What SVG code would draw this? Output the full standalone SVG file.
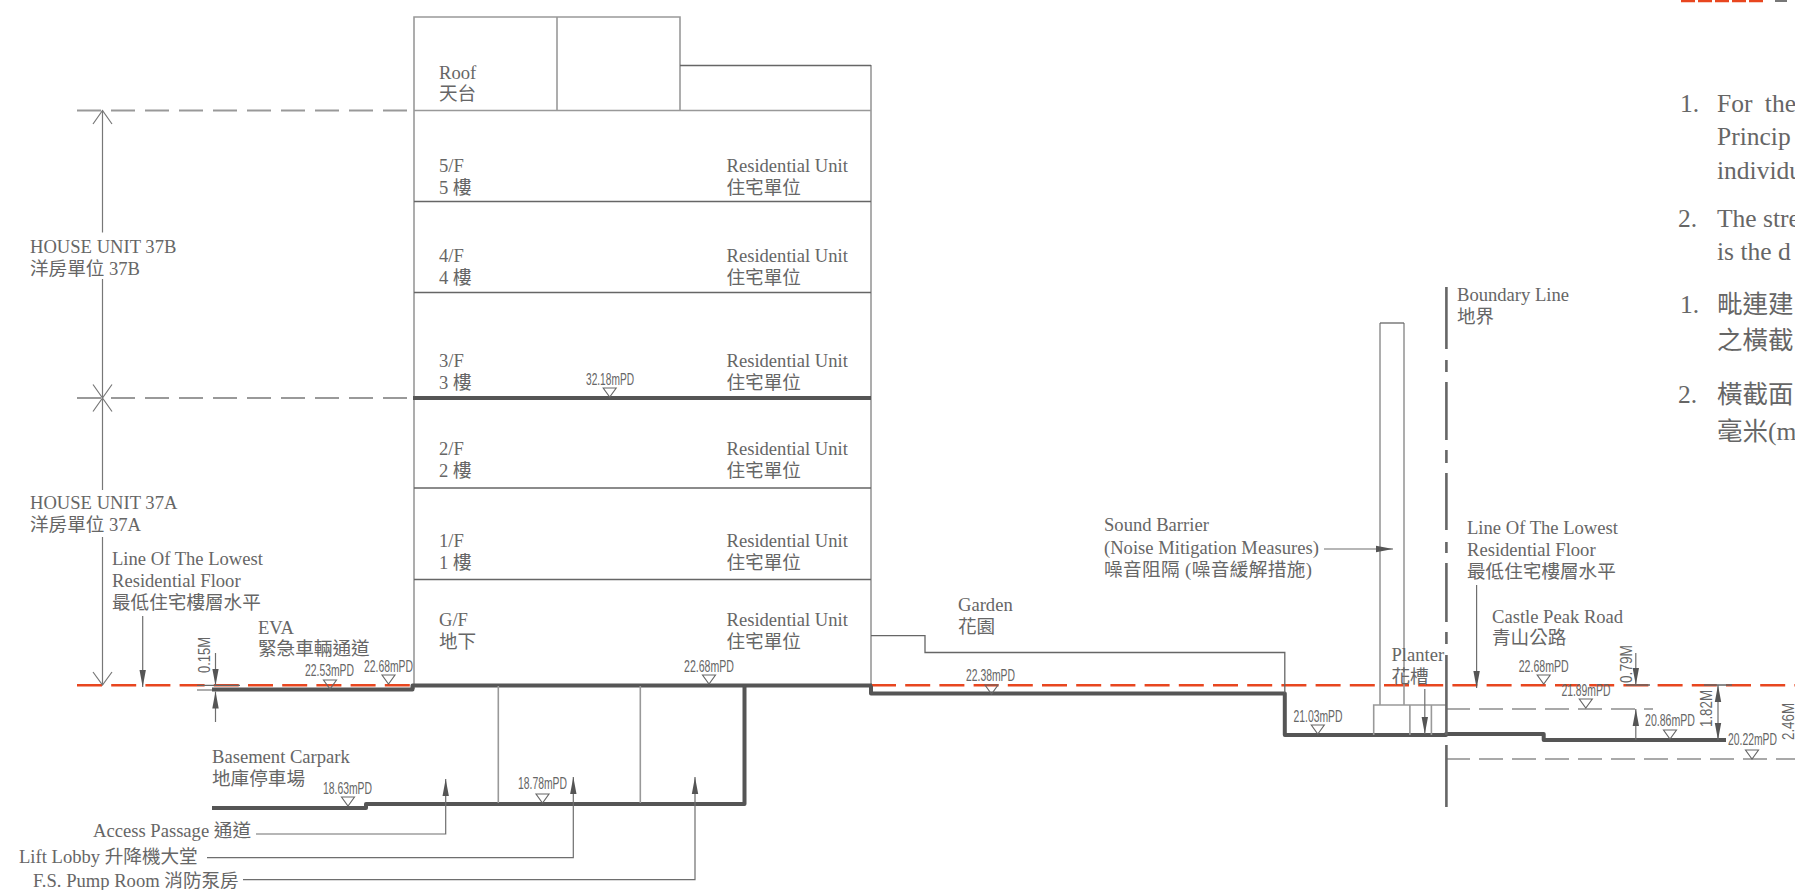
<svg xmlns="http://www.w3.org/2000/svg" width="1795" height="890" viewBox="0 0 1795 890">
<style>
text{font-family:"Liberation Serif","Noto Sans CJK TC",serif;font-size:18.6px;fill:#666}
.zh{font-size:18.6px}
.note{font-size:25.5px}
.lv{font-family:"Liberation Sans",sans-serif;font-size:17px}
.thin{fill:none;stroke:#777;stroke-width:1.2}
.wall{fill:none;stroke:#999;stroke-width:1.6}
.floor{fill:none;stroke:#666;stroke-width:1.3}
.slab{fill:none;stroke:#555;stroke-width:4;stroke-linejoin:round}
.red{fill:none;stroke:#e8461f;stroke-width:2.4;stroke-dasharray:25 9.2}
.dash{fill:none;stroke:#999;stroke-width:1.8;stroke-dasharray:24 10}
.ddash{fill:none;stroke:#555;stroke-width:1.2;stroke-dasharray:24 9}
.tri{fill:none;stroke:#666;stroke-width:1.1}
.bound{fill:none;stroke:#666;stroke-width:2.6}
.lead{fill:none;stroke:#6e6e6e;stroke-width:1.2}
.arr{marker-end:url(#head)}
.both{marker-start:url(#head);marker-end:url(#head)}
</style>
<defs>
<marker id="head" markerUnits="userSpaceOnUse" markerWidth="18" markerHeight="8" refX="17" refY="4" orient="auto-start-reverse"><path d="M0 0.8L17 4L0 7.2Z" fill="#555"/></marker>
<polygon id="tri" points="-6.5,0 6.5,0 0,9" class="tri"/>
</defs>

<g id="building">
<path class="wall" d="M414 689V17H680V110.5M557 17V110.5M414 110.5H871M871 65V694"/>
<path class="floor" d="M680 65.5H871M414 201.5H871M414 292.5H871M414 488H871M414 579.5H871"/>
<path class="slab" d="M413 398H871"/>
<text x="439" y="79">Roof</text><text class="zh" x="439" y="100">天台</text>
<text x="439" y="172">5/F</text><text class="zh" x="439" y="194">5 樓</text>
<text x="439" y="262">4/F</text><text class="zh" x="439" y="284">4 樓</text>
<text x="439" y="367">3/F</text><text class="zh" x="439" y="389">3 樓</text>
<text x="439" y="455">2/F</text><text class="zh" x="439" y="477">2 樓</text>
<text x="439" y="547">1/F</text><text class="zh" x="439" y="569">1 樓</text>
<text x="439" y="626">G/F</text><text class="zh" x="439" y="648">地下</text>
<text x="726.5" y="172">Residential Unit</text><text class="zh" x="726.5" y="194">住宅單位</text>
<text x="726.5" y="262">Residential Unit</text><text class="zh" x="726.5" y="284">住宅單位</text>
<text x="726.5" y="367">Residential Unit</text><text class="zh" x="726.5" y="389">住宅單位</text>
<text x="726.5" y="455">Residential Unit</text><text class="zh" x="726.5" y="477">住宅單位</text>
<text x="726.5" y="547">Residential Unit</text><text class="zh" x="726.5" y="569">住宅單位</text>
<text x="726.5" y="626">Residential Unit</text><text class="zh" x="726.5" y="648">住宅單位</text>
<text class="lv" x="586" y="385" textLength="48" lengthAdjust="spacingAndGlyphs">32.18mPD</text><use href="#tri" x="609.7" y="388"/>
</g>

<g id="levels-lines">
<path class="dash" d="M77 110.5H412M77 398H412"/>
<path class="red" d="M77 685.3H414M871 685.3H1795"/>
<path class="ddash" d="M1446 709H1653"/>
<path class="ddash" d="M1446 759H1795"/>
<path class="floor" d="M197 685.3H240M1626 685H1650M1704 685H1732"/>
<path class="wall" d="M197 690H212"/>
</g>

<g id="ground">
<path class="slab" d="M212 689.5H412.5V685.5H872"/>
<path class="slab" d="M871 685.5V693.5H1284.8V735H1446V734H1543.7V740H1726"/>
<path class="slab" d="M212 808H366V804H744.5V685.5"/>
<path class="wall" d="M498.3 686V803M640.3 686V803"/>
</g>

<g id="garden">
<path class="floor" d="M871 635.7H925V652.5H1284.8V693"/>
<text x="958" y="611">Garden</text><text class="zh" x="958" y="633">花園</text>
<text class="lv" x="966" y="681" textLength="49" lengthAdjust="spacingAndGlyphs">22.38mPD</text><use href="#tri" x="991.5" y="685"/>
</g>

<g id="sound-barrier">
<path class="wall" d="M1380 705V323M1404 323V705"/>
<path class="floor" d="M1380 323H1404"/>
<text x="1104" y="531">Sound Barrier</text><text x="1104" y="554">(Noise Mitigation Measures)</text>
<text class="zh" x="1104" y="576" textLength="208">噪音阻隔 (噪音緩解措施)</text>
</g>

<g id="planter">
<path class="wall" d="M1373.7 735V705H1446M1409.9 705V735M1431.4 705V735"/>
<text x="1391.5" y="661">Planter</text><text class="zh" x="1391.5" y="683">花槽</text>
</g>

<g id="boundary-line">
<path class="bound" d="M1446.4 287V349M1446.4 360V372M1446.4 382V440M1446.4 450V463M1446.4 473V530M1446.4 542V553M1446.4 563V622M1446.4 632V644M1446.4 655V735M1446.4 745V807"/>
<text x="1457" y="301">Boundary Line</text><text class="zh" x="1457" y="323">地界</text>
</g>

<g id="house-units">
<path class="thin" d="M102.5 110.5V232.5M102.5 279V490M102.5 537V685"/>
<path class="thin" d="M93 124L102.5 110.5L112 124M93 384.5L112 411.5M112 384.5L93 411.5M93 672L102.5 685L112 672"/>
<text x="30" y="253">HOUSE UNIT 37B</text><text class="zh" x="30" y="275">洋房單位 37B</text>
<text x="30" y="509">HOUSE UNIT 37A</text><text class="zh" x="30" y="531">洋房單位 37A</text>
</g>

<g id="lowest-floor-left">
<text x="112" y="565">Line Of The Lowest</text><text x="112" y="587">Residential Floor</text><text class="zh" x="112" y="609">最低住宅樓層水平</text>
</g>
<g id="lowest-floor-right">
<text x="1467" y="534">Line Of The Lowest</text><text x="1467" y="556">Residential Floor</text><text class="zh" x="1467" y="578">最低住宅樓層水平</text>
</g>

<g id="eva">
<text x="258" y="634">EVA</text><text class="zh" x="258" y="655">緊急車輛通道</text>
<text class="lv" x="305" y="676" textLength="49" lengthAdjust="spacingAndGlyphs">22.53mPD</text><use href="#tri" x="330" y="680"/>
<text class="lv" x="364" y="672" textLength="49" lengthAdjust="spacingAndGlyphs">22.68mPD</text><use href="#tri" x="388.5" y="675"/>
<text class="lv" x="684" y="672" textLength="50" lengthAdjust="spacingAndGlyphs">22.68mPD</text><use href="#tri" x="709" y="675"/>
<text class="lv" transform="translate(210 673) rotate(-90)" textLength="36" lengthAdjust="spacingAndGlyphs">0.15M</text>
</g>

<g id="basement">
<text x="212" y="763">Basement Carpark</text><text class="zh" x="212" y="785">地庫停車場</text>
<text class="lv" x="323" y="794" textLength="49" lengthAdjust="spacingAndGlyphs">18.63mPD</text><use href="#tri" x="348" y="797"/>
<text class="lv" x="518" y="789" textLength="49" lengthAdjust="spacingAndGlyphs">18.78mPD</text><use href="#tri" x="542.5" y="794"/>
<text x="93" y="837">Access Passage <tspan class="zh">通道</tspan></text>
<text x="19" y="863">Lift Lobby <tspan class="zh">升降機大堂</tspan></text>
<text x="33" y="887">F.S. Pump Room <tspan class="zh">消防泵房</tspan></text>
</g>

<g id="road">
<text x="1492" y="623">Castle Peak Road</text><text class="zh" x="1492" y="644">青山公路</text>
<text class="lv" x="1293.5" y="722" textLength="49" lengthAdjust="spacingAndGlyphs">21.03mPD</text><use href="#tri" x="1317.8" y="725"/>
<text class="lv" x="1518.7" y="672" textLength="50" lengthAdjust="spacingAndGlyphs">22.68mPD</text><use href="#tri" x="1543.7" y="675"/>
<text class="lv" x="1561.4" y="696" textLength="49" lengthAdjust="spacingAndGlyphs">21.89mPD</text><use href="#tri" x="1585.8" y="699"/>
<text class="lv" x="1645" y="726" textLength="50" lengthAdjust="spacingAndGlyphs">20.86mPD</text><use href="#tri" x="1670" y="730"/>
<text class="lv" x="1728" y="745" textLength="49" lengthAdjust="spacingAndGlyphs">20.22mPD</text><use href="#tri" x="1752" y="750"/>
<text class="lv" transform="translate(1632 683) rotate(-90)" textLength="38" lengthAdjust="spacingAndGlyphs">0.79M</text>
<text class="lv" transform="translate(1711.5 727) rotate(-90)" textLength="37" lengthAdjust="spacingAndGlyphs">1.82M</text>
<text class="lv" transform="translate(1794 740) rotate(-90)" textLength="37" lengthAdjust="spacingAndGlyphs">2.46M</text>
</g>

<g id="connectors">
<path class="lead arr" d="M142.7 616V687"/>
<path class="lead arr" d="M1476.6 585V688"/>
<path class="lead arr" d="M215.5 653V685.5"/>
<path class="lead arr" d="M215.5 722V691.5"/>
<path class="lead arr" d="M256 834H445.7V779"/>
<path class="lead arr" d="M207 857.7H573.3V777"/>
<path class="lead arr" d="M243 879.7H695V777"/>
<path class="lead arr" d="M1324 549H1393"/>
<path class="lead arr" d="M1424.8 689V734"/>
<path class="lead arr" d="M1635.8 653V685"/>
<path class="lead arr" d="M1635.8 740V709"/>
<path class="lead both" d="M1718 685V740"/>
</g>

<g id="notes">
<path d="M1681 1H1765" fill="none" stroke="#e8461f" stroke-width="2.4" stroke-dasharray="14 3"/>
<path d="M1775 1H1787" fill="none" stroke="#777" stroke-width="2"/>
<text class="note" x="1680" y="112">1.</text><text class="note" x="1717" y="112" word-spacing="6">For the</text>
<text class="note" x="1717" y="145">Princip</text><text class="note" x="1717" y="179">individu</text>
<text class="note" x="1678" y="227">2.</text><text class="note" x="1717" y="227">The stre</text>
<text class="note" x="1717" y="260">is the d</text>
<text class="note" x="1680" y="313">1.</text><text class="note" x="1717" y="313">毗連建</text>
<text class="note" x="1717" y="349">之橫截</text>
<text class="note" x="1678" y="403">2.</text><text class="note" x="1717" y="403">橫截面</text>
<text class="note" x="1717" y="440">毫米(m</text>
</g>
</svg>
